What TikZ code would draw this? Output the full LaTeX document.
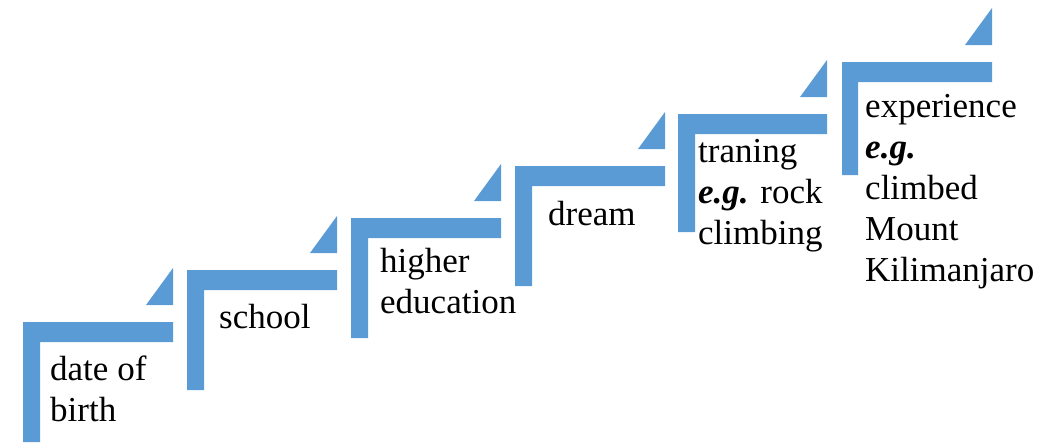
\documentclass[tikz,border=0pt]{standalone}
\usepackage{fontspec}
\setmainfont{Liberation Serif}
\usetikzlibrary{positioning}
\definecolor{stairblue}{RGB}{91,155,213}
\newcommand{\steplines}[1]{\begin{tabular}[t]{@{}l@{}}#1\end{tabular}}
\tikzset{
  stair/.style={fill=stairblue},
  lbl/.style={anchor=base west, inner sep=0pt,
    font=\fontsize{35}{41}\selectfont}
}

\begin{document}
\begin{tikzpicture}[x=1pt,y=-1pt]
\useasboundingbox (0,0) rectangle (1044,445);
% steps: upright, tread, corner
\fill[stair] (23,442) -- (23,322) -- (173,322) -- (173,342) -- (40,342) -- (40,442) -- cycle;
\fill[stair] (146,305) -- (173,305) -- (173,268) -- cycle;
\fill[stair] (187,390) -- (187,270) -- (337,270) -- (337,290) -- (204,290) -- (204,390) -- cycle;
\fill[stair] (310,253) -- (337,253) -- (337,216) -- cycle;
\fill[stair] (351,338) -- (351,218) -- (501,218) -- (501,238) -- (368,238) -- (368,338) -- cycle;
\fill[stair] (474,201) -- (501,201) -- (501,164) -- cycle;
\fill[stair] (515,286) -- (515,166) -- (665,166) -- (665,186) -- (532,186) -- (532,286) -- cycle;
\fill[stair] (638,149) -- (665,149) -- (665,112) -- cycle;
\fill[stair] (678,232) -- (678,114) -- (827,114) -- (827,134) -- (695,134) -- (695,232) -- cycle;
\fill[stair] (800,97) -- (827,97) -- (827,60) -- cycle;
\fill[stair] (842,175) -- (842,62) -- (992,62) -- (992,82) -- (858,82) -- (858,175) -- cycle;
\fill[stair] (965,45) -- (992,45) -- (992,8) -- cycle;
% labels
\node[lbl] (birth) at (50,380) {\steplines{date of\\birth}};
\node[lbl] (school) at (219,328) {school};
\node[lbl] (higher) at (380,272) {\steplines{higher\\education}};
\node[lbl] (dream) at (548,225) {dream};
\node[lbl] (training) at (698,162) {\steplines{traning\\\textbf{\textit{e.g.}} rock\\climbing}};
\node[lbl] (experience) at (865,117) {\steplines{experience\\\textbf{\textit{e.g.}}\\climbed\\Mount\\Kilimanjaro}};
\end{tikzpicture}
\end{document}
